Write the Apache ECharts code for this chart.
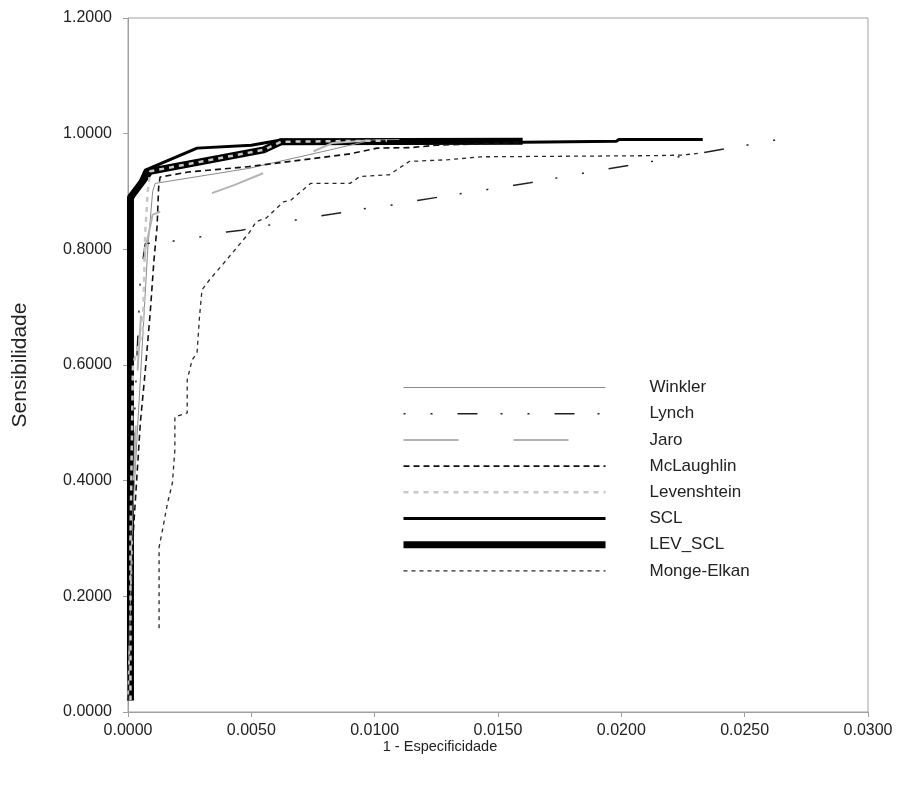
<!DOCTYPE html>
<html>
<head>
<meta charset="utf-8">
<script src="https://cdn.jsdelivr.net/npm/echarts@6/dist/echarts.min.js"></script>
<style>html,body{margin:0;padding:0;background:#fff}#c{width:904px;height:785px}</style>
</head>
<body>
<div id="c"></div>
<script>
// Tick labels
const xTicks = ['0.0000','0.0050','0.0100','0.0150','0.0200','0.0250','0.0300'];
const yTicks = ['0.0000','0.2000','0.4000','0.6000','0.8000','1.0000','1.2000'];
const seriesNames = ['Winkler','Lynch','Jaro','McLaughlin','Levenshtein','SCL','LEV_SCL','Monge-Elkan'];

// [1 - especificidade, sensibilidade]
const winkler = [[0,0.02],[0.0002,0.35],[0.0004,0.5],[0.0006,0.65],[0.0008,0.8],[0.001,0.9],[0.0011,0.914],[0.0049,0.94],[0.0082,0.972],[0.0099,0.989],[0.011,0.99]];
const lynch = [[0,0.02],[0.0001,0.3],[0.0003,0.55],[0.0005,0.75],[0.0007,0.81],[0.0017,0.813],[0.0023,0.819],[0.003,0.822],[0.004,0.83],[0.0046,0.833],[0.0054,0.84],[0.0062,0.845],[0.0067,0.85],[0.0075,0.856],[0.0083,0.861],[0.0097,0.871],[0.0105,0.875],[0.0118,0.885],[0.0142,0.901],[0.0163,0.915],[0.0185,0.932],[0.0207,0.948],[0.0252,0.981],[0.0265,0.991]];
const jaro = [[0,0.02],[0.0002,0.35],[0.0004,0.6],[0.0007,0.8],[0.001,0.86],[0.0015,0.868],[0.002,0.874],[0.003,0.891],[0.0043,0.911],[0.0055,0.932],[0.0083,0.984],[0.0099,0.989],[0.011,0.99]];
const mclaughlin = [[0,0.02],[0.0002,0.3],[0.0005,0.5],[0.0007,0.59],[0.0009,0.69],[0.00105,0.78],[0.00118,0.84],[0.00124,0.906],[0.0013,0.925],[0.0025,0.934],[0.0049,0.943],[0.009,0.965],[0.0101,0.975],[0.0115,0.976],[0.0125,0.98],[0.016,0.985]];
const levenshtein = [[0.0001,0.02],[0.0001,0.3],[0.0002,0.6],[0.0006,0.66],[0.0007,0.83],[0.0008,0.9],[0.0009,0.935],[0.0055,0.972],[0.0062,0.986],[0.0105,0.988]];
const scl = [[0.0001,0.02],[0.0001,0.5],[0.0001,0.88],[0.0007,0.937],[0.0028,0.975],[0.005,0.98],[0.0062,0.989],[0.0158,0.987],[0.016,0.985],[0.0198,0.987],[0.0199,0.99],[0.0233,0.99]];
const levScl = [[0.0001,0.02],[0.0001,0.3],[0.0001,0.6],[0.0001,0.89],[0.0009,0.935],[0.0055,0.972],[0.0062,0.986],[0.016,0.987]];
const mongeElkan = [[0.00126,0.145],[0.00126,0.285],[0.0014,0.315],[0.0016,0.361],[0.0018,0.396],[0.0019,0.453],[0.0019,0.51],[0.0024,0.517],[0.0024,0.574],[0.0026,0.609],[0.0028,0.621],[0.0029,0.684],[0.003,0.73],[0.0033,0.747],[0.004,0.782],[0.0049,0.828],[0.0052,0.848],[0.0056,0.854],[0.0063,0.882],[0.0066,0.885],[0.0074,0.914],[0.009,0.914],[0.0094,0.926],[0.0106,0.929],[0.0114,0.952],[0.013,0.955],[0.0143,0.96],[0.0214,0.962],[0.0225,0.963],[0.0231,0.966]];

const dataSets = [winkler, lynch, jaro, mclaughlin, levenshtein, scl, levScl, mongeElkan];
const styles = [
  {color:'#8a8a8a', width:1, type:'solid', z:3},
  {color:'#222', width:1.5, type:[2,25,2,25,20,23], z:3},
  {color:'#b4b4b4', width:2, type:[55,55], z:3},
  {color:'#111', width:1.6, type:[6,4], z:3},
  {color:'#c8c8c8', width:2.5, type:[5,5], z:5},
  {color:'#000', width:3, type:'solid', z:2},
  {color:'#000', width:7, type:'solid', z:1},
  {color:'#2a2a20', width:1.3, type:[4,4], z:3}
];

const chart = echarts.init(document.getElementById('c'));
const FONT = 'Liberation Sans, Arial, sans-serif';
chart.setOption({
  backgroundColor: '#fff',
  animation: false,
  grid: {left:128, right:36, top:18, bottom:73, show:true, borderColor:'#a0a0a0', borderWidth:1, backgroundColor:'transparent'},
  xAxis: {
    type:'value', min:0, max:0.03, interval:0.005,
    name:'1 - Especificidade', nameLocation:'middle', nameGap:27, nameMoveOverlap:false,
    nameTextStyle:{fontFamily:FONT, fontSize:14.5, color:'#222', padding:[0,116,0,0]},
    axisLine:{show:true, lineStyle:{color:'#a0a0a0'}},
    axisTick:{show:true, length:5, lineStyle:{color:'#a0a0a0'}},
    splitLine:{show:false},
    axisLabel:{fontFamily:FONT, fontSize:16, color:'#222', margin:11, formatter:(v)=>xTicks[Math.round(v/0.005)]}
  },
  yAxis: {
    type:'value', min:0, max:1.2, interval:0.2,
    name:'Sensibilidade', nameLocation:'middle', nameGap:97, nameMoveOverlap:false,
    nameTextStyle:{fontFamily:FONT, fontSize:21, color:'#222'},
    axisLine:{show:true, lineStyle:{color:'#a0a0a0'}},
    axisTick:{show:true, length:5, lineStyle:{color:'#a0a0a0'}},
    splitLine:{show:false},
    axisLabel:{fontFamily:FONT, fontSize:16, color:'#222', margin:16, formatter:(v)=>yTicks[Math.round(v/0.2)]}
  },
  legend: {
    orient:'vertical', left:400, top:379, padding:0,
    itemWidth:202, itemHeight:14, itemGap:9.2,
    data: seriesNames,
    textStyle:{fontFamily:FONT, fontSize:17, color:'#222', padding:[0,0,0,39]},
    lineStyle:{width:'inherit', type:'inherit', color:'inherit'},
    itemStyle:{opacity:0, borderWidth:0},
    selectedMode:false
  },
  series: seriesNames.map((n,i)=>({
    name:n, type:'line', data:dataSets[i], symbol:'none', z:styles[i].z,
    lineStyle:{color:styles[i].color, width:styles[i].width, type:styles[i].type},
    itemStyle:{color:styles[i].color},
    emphasis:{disabled:true}
  }))
});
</script>
</body>
</html>
